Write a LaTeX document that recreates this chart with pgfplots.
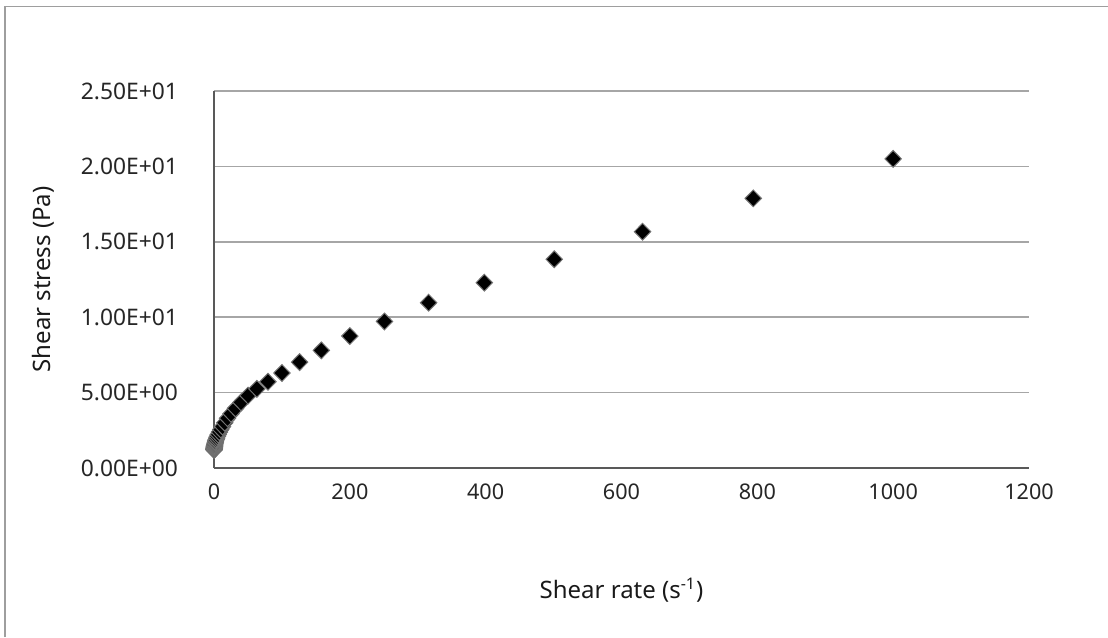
\documentclass[border=0pt]{standalone}
\usepackage{fontspec}
\setmainfont{Noto Sans}
\usepackage{pgfplots}
\pgfplotsset{compat=1.18}

\begin{document}
\begin{tikzpicture}
% page = 1108x637 px at 0.5pt per px, axis box at origin
\path[use as bounding box] (-107pt,-84.5pt) rectangle (447pt,234pt);
\draw[black!38, line width=0.9pt] (-104.5pt,-84.5pt) -- (-104.5pt,230.75pt) -- (447pt,230.75pt);
\begin{axis}[
scale only axis,
width=407.5pt, height=188.5pt,
xmin=0, xmax=1200, ymin=0, ymax=25,
xtick={0,200,...,1200},
ytick={0,5,10,15,20,25},
yticklabels={0.00E+00,5.00E+00,1.00E+01,1.50E+01,2.00E+01,2.50E+01},
/pgf/number format/assume math mode=true,
/pgf/number format/1000 sep={},
axis x line*=bottom, axis y line*=left,
major tick length=0pt,
ymajorgrids=true,
grid style={black!35, line width=0.75pt},
axis line style={black!65, line width=0.75pt},
tick label style={text=black!85},
xticklabel style={font=\fontsize{10.8}{12}\selectfont, yshift=-4.5pt},
yticklabel style={font=\fontsize{11.4}{13}\selectfont, xshift=-14.5pt},
xlabel={Shear rate (s\textsuperscript{-1})},
ylabel={Shear stress (Pa)},
label style={font=\fontsize{12}{14}\selectfont, text=black!90},
xlabel style={at={(axis description cs:0.5,-0.3236)}, anchor=center},
ylabel style={at={(axis description cs:-0.2098,0.5)}, anchor=center},
]
\addplot[only marks, mark=diamond*, mark size=4.2pt,
  mark options={xscale=1.3, fill=black, draw=black!55, line width=0.5pt}]
coordinates {
(0.1,1.20) (0.126,1.22) (0.158,1.24) (0.2,1.26) (0.251,1.29) (0.316,1.32)
(0.398,1.35) (0.501,1.39) (0.631,1.43) (0.794,1.47) (1,1.52) (1.26,1.58)
(1.58,1.65) (2,1.72) (2.51,1.80) (3.16,1.88) (3.98,1.98) (5.01,2.10)
(6.31,2.22) (7.94,2.38) (10,2.55) (12.6,2.75) (15.8,3.00) (20,3.30)
(25.1,3.60) (31.6,3.95) (39.8,4.35) (50.1,4.80) (63.1,5.25) (79.4,5.72)
(100,6.30) (126,7.02) (158,7.80) (200,8.75) (251,9.72) (316,10.96)
(398,12.29) (501,13.84) (631,15.67) (794,17.88) (1000,20.50)
};
\end{axis}
\end{tikzpicture}
\end{document}
